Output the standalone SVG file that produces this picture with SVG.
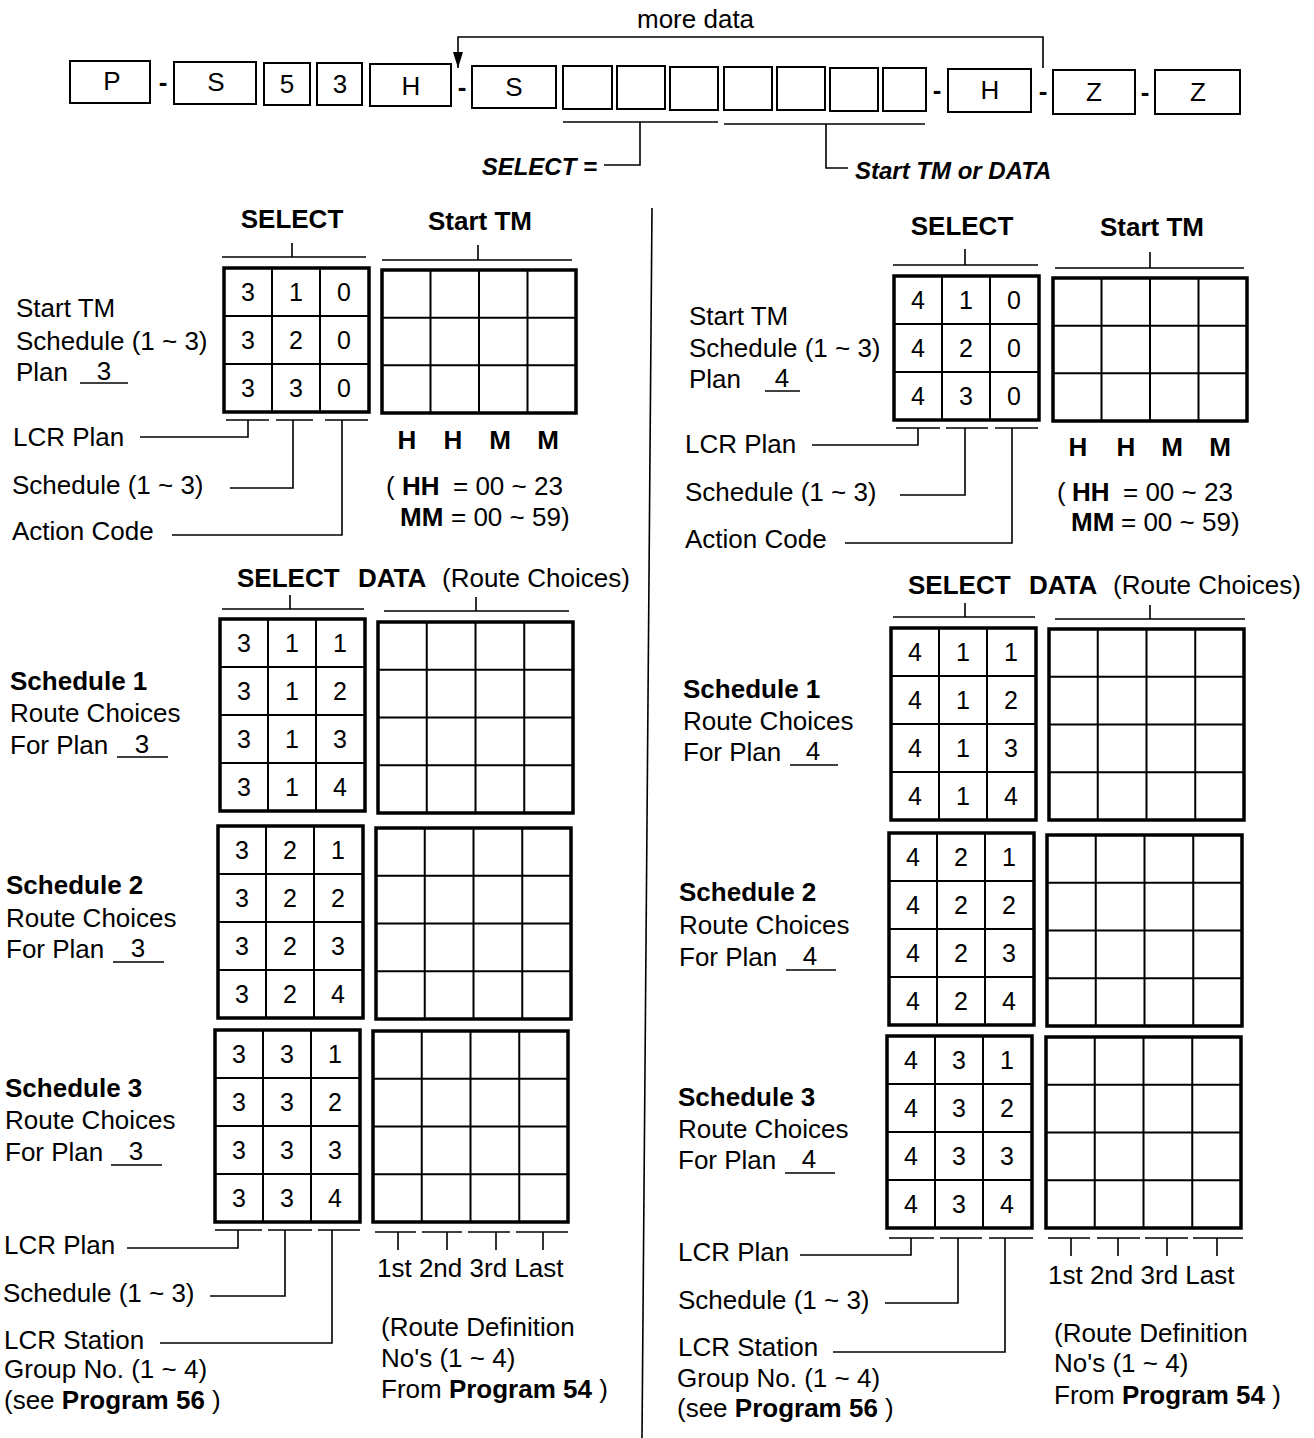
<svg xmlns="http://www.w3.org/2000/svg" xmlns:xlink="http://www.w3.org/1999/xlink" width="1314" height="1438" viewBox="0 0 1314 1438">
<style>
.t{font-family:"Liberation Sans",Arial,Helvetica,sans-serif;font-size:26px;fill:#000}
.b{font-weight:bold}
.n{font-size:25px;text-anchor:middle}
.m{text-anchor:middle}
.i{font-style:italic;font-weight:bold;font-size:24px}
.box{fill:#fff;stroke:#000;stroke-width:2}
.go{fill:none;stroke:#000;stroke-width:3.5}
.gi{fill:none;stroke:#000;stroke-width:2}
.ln{fill:none;stroke:#000;stroke-width:1.6}
</style>
<defs>
<marker id="ah" markerWidth="16" markerHeight="10" refX="16" refY="5" orient="auto" markerUnits="userSpaceOnUse" viewBox="0 0 16 10">
<path d="M0,0 L16,5 L0,10 Z" fill="#000"/>
</marker>
<g id="sel3"><path class="gi" d="M48,0V144M96,0V144M0,48H145M0,96H145"/><rect class="go" x="0" y="0" width="145" height="144"/></g>
<g id="dat3"><path class="gi" d="M48.5,0V143M97,0V143M145.5,0V143M0,47.7H194M0,95.3H194"/><rect class="go" x="0" y="0" width="194" height="143"/></g>
<g id="sel4"><path class="gi" d="M48,0V192M96,0V192M0,48H145M0,96H145M0,144H145"/><rect class="go" x="0" y="0" width="145" height="192"/></g>
<g id="dat4"><path class="gi" d="M48.75,0V191M97.5,0V191M146.25,0V191M0,47.75H195M0,95.5H195M0,143.25H195"/><rect class="go" x="0" y="0" width="195" height="191"/></g>
</defs>
<rect x="0" y="0" width="1314" height="1438" fill="#fff"/>

<!-- header row -->
<g id="header">
<text class="t" x="637" y="28">more data</text>
<g id="hb-P"><rect class="box" x="70" y="61" width="80" height="42"/><text class="t m" x="112" y="90">P</text></g>
<text class="t b m" x="163" y="91">-</text>
<g id="hb-S1"><rect class="box" x="174" y="62" width="82" height="42"/><text class="t m" x="216" y="91">S</text></g>
<g id="hb-5"><rect class="box" x="264" y="63" width="46" height="42"/><text class="t m" x="287" y="93">5</text></g>
<g id="hb-3"><rect class="box" x="317" y="63" width="45" height="42"/><text class="t m" x="340" y="93">3</text></g>
<g id="hb-H1"><rect class="box" x="370" y="64" width="81" height="42"/><text class="t m" x="411" y="95">H</text></g>
<text class="t b m" x="462" y="96">-</text>
<g id="hb-S2"><rect class="box" x="472" y="66" width="84" height="42"/><text class="t m" x="514" y="96">S</text></g>
<g id="hb-e1"><rect class="box" x="563" y="66" width="49" height="43"/></g>
<g id="hb-e2"><rect class="box" x="617" y="66" width="48" height="43"/></g>
<g id="hb-e3"><rect class="box" x="670" y="67" width="48" height="43"/></g>
<g id="hb-e4"><rect class="box" x="724" y="67" width="48" height="43"/></g>
<g id="hb-e5"><rect class="box" x="777" y="67" width="48" height="43"/></g>
<g id="hb-e6"><rect class="box" x="830" y="68" width="48" height="43"/></g>
<g id="hb-e7"><rect class="box" x="883" y="68" width="43" height="43"/></g>
<text class="t b m" x="937" y="99">-</text>
<g id="hb-H2"><rect class="box" x="948" y="69" width="83" height="43"/><text class="t m" x="990" y="99">H</text></g>
<text class="t b m" x="1043" y="100">-</text>
<g id="hb-Z1"><rect class="box" x="1053" y="70" width="82" height="44"/><text class="t m" x="1094" y="101">Z</text></g>
<text class="t b m" x="1145" y="101">-</text>
<g id="hb-Z2"><rect class="box" x="1155" y="70" width="85" height="44"/><text class="t m" x="1198" y="101">Z</text></g>
<text class="t i" x="597" y="175" text-anchor="end">SELECT =</text>
<text class="t i" x="855" y="179">Start TM or DATA</text>
</g>

<!-- connectors -->
<g id="connectors">
<path class="ln" d="M1043,68V37H458V68" marker-end="url(#ah)"/>
<path class="ln" d="M563,122H718M640,122V165H604"/>
<path class="ln" d="M724,124H925M826,124V168H848"/>
<path class="ln" d="M652,208L642,1438"/>
<!-- left top -->
<path class="ln" d="M222,257H366M292,243V257M382,260H572M478,245V260"/>
<path class="ln" d="M226,420H269M276,420H313M325,420H368"/>
<path class="ln" d="M140,437H248V420M230,488H293V420M172,535H342V420"/>
<path class="ln" d="M80,383H128"/>
<!-- right top -->
<path class="ln" d="M893,265H1038M965,249V265M1055,268H1244M1150,252V268"/>
<path class="ln" d="M896,428H940M946,428H988M995,428H1038"/>
<path class="ln" d="M812,445H918V428M900,495H965V428M845,543H1012V428"/>
<path class="ln" d="M765,391H800"/>
<!-- left data -->
<path class="ln" d="M222,609H364M290,595V609M384,611H569M476,597V611"/>
<path class="ln" d="M117,757H168M113,962H164M111,1165H162"/>
<path class="ln" d="M215,1230H262M268,1230H312M318,1230H360"/>
<path class="ln" d="M127,1248H238V1230M210,1296H285V1230M160,1343H332V1230"/>
<path class="ln" d="M375,1232H416M422,1232H462M468,1232H510M516,1232H568M398,1232V1250M447,1232V1250M496,1232V1250M543,1232V1250"/>
<!-- right data -->
<path class="ln" d="M893,617H1035M965,603V617M1055,619H1245M1150,605V619"/>
<path class="ln" d="M790,765H838M786,970H836M785,1173H835"/>
<path class="ln" d="M889,1238H934M940,1238H982M989,1238H1033"/>
<path class="ln" d="M800,1255H911V1238M885,1303H958V1238M833,1352H1005V1238"/>
<path class="ln" d="M1048,1238H1090M1097,1238H1140M1145,1238H1188M1193,1238H1243M1071,1238V1256M1118,1238V1256M1167,1238V1256M1217,1238V1256"/>
</g>

<!-- LEFT TOP -->
<g id="L-top-labels">
<text class="t b m" x="292" y="228">SELECT</text>
<text class="t b m" x="480" y="230">Start TM</text>
<text class="t" x="16" y="317">Start TM</text>
<text class="t" x="16" y="350">Schedule (1 ~ 3)</text>
<text class="t" x="16" y="381">Plan</text>
<text class="t m" x="104" y="380">3</text>
<text class="t" x="13" y="446">LCR Plan</text>
<text class="t" x="12" y="494">Schedule (1 ~ 3)</text>
<text class="t" x="12" y="540">Action Code</text>
<text class="t b m" x="407" y="449">H</text>
<text class="t b m" x="453" y="449">H</text>
<text class="t b m" x="500" y="449">M</text>
<text class="t b m" x="548" y="449">M</text>
<text class="t" x="386" y="495">(<tspan class="b" x="402">HH</tspan><tspan x="453">= 00 ~ 23</tspan></text>
<text class="t" x="400" y="526"><tspan class="b">MM</tspan><tspan x="451">= 00 ~ 59)</tspan></text>
</g>
<g id="L-sel-top" transform="translate(224,268)"><use href="#sel3" xlink:href="#sel3"/>
<text class="t n" x="24" y="33">3</text><text class="t n" x="72" y="33">1</text><text class="t n" x="120" y="33">0</text>
<text class="t n" x="24" y="81">3</text><text class="t n" x="72" y="81">2</text><text class="t n" x="120" y="81">0</text>
<text class="t n" x="24" y="129">3</text><text class="t n" x="72" y="129">3</text><text class="t n" x="120" y="129">0</text>
</g>
<g id="L-tm-top" transform="translate(382,270)"><use href="#dat3" xlink:href="#dat3"/></g>

<!-- RIGHT TOP -->
<g id="R-top-labels">
<text class="t b m" x="962" y="235">SELECT</text>
<text class="t b m" x="1152" y="236">Start TM</text>
<text class="t" x="689" y="325">Start TM</text>
<text class="t" x="689" y="357">Schedule (1 ~ 3)</text>
<text class="t" x="689" y="388">Plan</text>
<text class="t m" x="782" y="387">4</text>
<text class="t" x="685" y="453">LCR Plan</text>
<text class="t" x="685" y="501">Schedule (1 ~ 3)</text>
<text class="t" x="685" y="548">Action Code</text>
<text class="t b m" x="1078" y="456">H</text>
<text class="t b m" x="1126" y="456">H</text>
<text class="t b m" x="1172" y="456">M</text>
<text class="t b m" x="1220" y="456">M</text>
<text class="t" x="1057" y="501">(<tspan class="b" x="1072">HH</tspan><tspan x="1123">= 00 ~ 23</tspan></text>
<text class="t" x="1071" y="531"><tspan class="b">MM</tspan><tspan x="1121">= 00 ~ 59)</tspan></text>
</g>
<g id="R-sel-top" transform="translate(894,276)"><use href="#sel3" xlink:href="#sel3"/>
<text class="t n" x="24" y="33">4</text><text class="t n" x="72" y="33">1</text><text class="t n" x="120" y="33">0</text>
<text class="t n" x="24" y="81">4</text><text class="t n" x="72" y="81">2</text><text class="t n" x="120" y="81">0</text>
<text class="t n" x="24" y="129">4</text><text class="t n" x="72" y="129">3</text><text class="t n" x="120" y="129">0</text>
</g>
<g id="R-tm-top" transform="translate(1053,278)"><use href="#dat3" xlink:href="#dat3"/></g>

<!-- LEFT DATA -->
<g id="L-data-labels">
<text class="t" x="237" y="587"><tspan class="b">SELECT</tspan><tspan class="b" x="358">DATA</tspan><tspan x="442">(Route Choices)</tspan></text>
<text class="t b" x="10" y="690">Schedule 1</text>
<text class="t" x="10" y="722">Route Choices</text>
<text class="t" x="10" y="754">For Plan</text><text class="t m" x="142" y="753">3</text>
<text class="t b" x="6" y="894">Schedule 2</text>
<text class="t" x="6" y="927">Route Choices</text>
<text class="t" x="6" y="958">For Plan</text><text class="t m" x="138" y="957">3</text>
<text class="t b" x="5" y="1097">Schedule 3</text>
<text class="t" x="5" y="1129">Route Choices</text>
<text class="t" x="5" y="1161">For Plan</text><text class="t m" x="136" y="1160">3</text>
<text class="t" x="4" y="1254">LCR Plan</text>
<text class="t" x="3" y="1302">Schedule (1 ~ 3)</text>
<text class="t" x="4" y="1349">LCR Station</text>
<text class="t" x="4" y="1378">Group No. (1 ~ 4)</text>
<text class="t" x="4" y="1409">(see <tspan class="b">Program 56</tspan> )</text>
<text class="t" x="377" y="1277">1st 2nd 3rd Last</text>
<text class="t" x="381" y="1336">(Route Definition</text>
<text class="t" x="381" y="1367">No's (1 ~ 4)</text>
<text class="t" x="381" y="1398">From <tspan class="b">Program 54</tspan> )</text>
</g>
<g id="L-sel-1" transform="translate(220,619)"><use href="#sel4" xlink:href="#sel4"/>
<text class="t n" x="24" y="33">3</text><text class="t n" x="72" y="33">1</text><text class="t n" x="120" y="33">1</text>
<text class="t n" x="24" y="81">3</text><text class="t n" x="72" y="81">1</text><text class="t n" x="120" y="81">2</text>
<text class="t n" x="24" y="129">3</text><text class="t n" x="72" y="129">1</text><text class="t n" x="120" y="129">3</text>
<text class="t n" x="24" y="177">3</text><text class="t n" x="72" y="177">1</text><text class="t n" x="120" y="177">4</text>
</g>
<g id="L-dat-1" transform="translate(378,622)"><use href="#dat4" xlink:href="#dat4"/></g>
<g id="L-sel-2" transform="translate(218,826)"><use href="#sel4" xlink:href="#sel4"/>
<text class="t n" x="24" y="33">3</text><text class="t n" x="72" y="33">2</text><text class="t n" x="120" y="33">1</text>
<text class="t n" x="24" y="81">3</text><text class="t n" x="72" y="81">2</text><text class="t n" x="120" y="81">2</text>
<text class="t n" x="24" y="129">3</text><text class="t n" x="72" y="129">2</text><text class="t n" x="120" y="129">3</text>
<text class="t n" x="24" y="177">3</text><text class="t n" x="72" y="177">2</text><text class="t n" x="120" y="177">4</text>
</g>
<g id="L-dat-2" transform="translate(376,828)"><use href="#dat4" xlink:href="#dat4"/></g>
<g id="L-sel-3" transform="translate(215,1030)"><use href="#sel4" xlink:href="#sel4"/>
<text class="t n" x="24" y="33">3</text><text class="t n" x="72" y="33">3</text><text class="t n" x="120" y="33">1</text>
<text class="t n" x="24" y="81">3</text><text class="t n" x="72" y="81">3</text><text class="t n" x="120" y="81">2</text>
<text class="t n" x="24" y="129">3</text><text class="t n" x="72" y="129">3</text><text class="t n" x="120" y="129">3</text>
<text class="t n" x="24" y="177">3</text><text class="t n" x="72" y="177">3</text><text class="t n" x="120" y="177">4</text>
</g>
<g id="L-dat-3" transform="translate(373,1031)"><use href="#dat4" xlink:href="#dat4"/></g>

<!-- RIGHT DATA -->
<g id="R-data-labels">
<text class="t" x="908" y="594"><tspan class="b">SELECT</tspan><tspan class="b" x="1029">DATA</tspan><tspan x="1113">(Route Choices)</tspan></text>
<text class="t b" x="683" y="698">Schedule 1</text>
<text class="t" x="683" y="730">Route Choices</text>
<text class="t" x="683" y="761">For Plan</text><text class="t m" x="813" y="760">4</text>
<text class="t b" x="679" y="901">Schedule 2</text>
<text class="t" x="679" y="934">Route Choices</text>
<text class="t" x="679" y="966">For Plan</text><text class="t m" x="810" y="965">4</text>
<text class="t b" x="678" y="1106">Schedule 3</text>
<text class="t" x="678" y="1138">Route Choices</text>
<text class="t" x="678" y="1169">For Plan</text><text class="t m" x="809" y="1168">4</text>
<text class="t" x="678" y="1261">LCR Plan</text>
<text class="t" x="678" y="1309">Schedule (1 ~ 3)</text>
<text class="t" x="678" y="1356">LCR Station</text>
<text class="t" x="677" y="1387">Group No. (1 ~ 4)</text>
<text class="t" x="677" y="1417">(see <tspan class="b">Program 56</tspan> )</text>
<text class="t" x="1048" y="1284">1st 2nd 3rd Last</text>
<text class="t" x="1054" y="1342">(Route Definition</text>
<text class="t" x="1054" y="1372">No's (1 ~ 4)</text>
<text class="t" x="1054" y="1404">From <tspan class="b">Program 54</tspan> )</text>
</g>
<g id="R-sel-1" transform="translate(891,628)"><use href="#sel4" xlink:href="#sel4"/>
<text class="t n" x="24" y="33">4</text><text class="t n" x="72" y="33">1</text><text class="t n" x="120" y="33">1</text>
<text class="t n" x="24" y="81">4</text><text class="t n" x="72" y="81">1</text><text class="t n" x="120" y="81">2</text>
<text class="t n" x="24" y="129">4</text><text class="t n" x="72" y="129">1</text><text class="t n" x="120" y="129">3</text>
<text class="t n" x="24" y="177">4</text><text class="t n" x="72" y="177">1</text><text class="t n" x="120" y="177">4</text>
</g>
<g id="R-dat-1" transform="translate(1049,629)"><use href="#dat4" xlink:href="#dat4"/></g>
<g id="R-sel-2" transform="translate(889,833)"><use href="#sel4" xlink:href="#sel4"/>
<text class="t n" x="24" y="33">4</text><text class="t n" x="72" y="33">2</text><text class="t n" x="120" y="33">1</text>
<text class="t n" x="24" y="81">4</text><text class="t n" x="72" y="81">2</text><text class="t n" x="120" y="81">2</text>
<text class="t n" x="24" y="129">4</text><text class="t n" x="72" y="129">2</text><text class="t n" x="120" y="129">3</text>
<text class="t n" x="24" y="177">4</text><text class="t n" x="72" y="177">2</text><text class="t n" x="120" y="177">4</text>
</g>
<g id="R-dat-2" transform="translate(1047,835)"><use href="#dat4" xlink:href="#dat4"/></g>
<g id="R-sel-3" transform="translate(887,1036)"><use href="#sel4" xlink:href="#sel4"/>
<text class="t n" x="24" y="33">4</text><text class="t n" x="72" y="33">3</text><text class="t n" x="120" y="33">1</text>
<text class="t n" x="24" y="81">4</text><text class="t n" x="72" y="81">3</text><text class="t n" x="120" y="81">2</text>
<text class="t n" x="24" y="129">4</text><text class="t n" x="72" y="129">3</text><text class="t n" x="120" y="129">3</text>
<text class="t n" x="24" y="177">4</text><text class="t n" x="72" y="177">3</text><text class="t n" x="120" y="177">4</text>
</g>
<g id="R-dat-3" transform="translate(1046,1037)"><use href="#dat4" xlink:href="#dat4"/></g>
</svg>
